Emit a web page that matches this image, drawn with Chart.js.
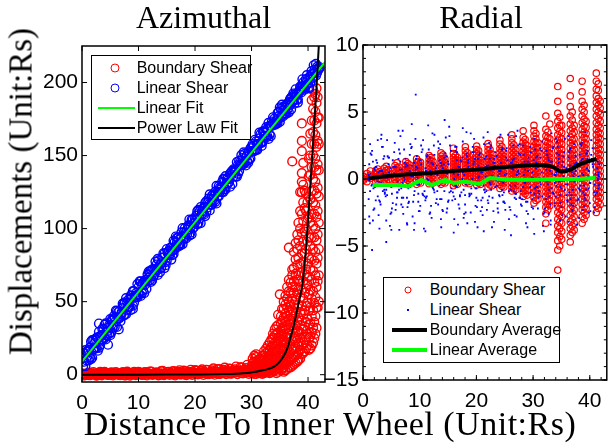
<!DOCTYPE html>
<html>
<head>
<meta charset="utf-8">
<script src="https://cdn.jsdelivr.net/npm/chart.js@4.4.1/dist/chart.umd.min.js"></script>
<style>
  body { margin: 0; background: #fff; }
  #wrap { position: relative; width: 612px; height: 444px; overflow: hidden; background: #fff; }
  canvas { position: absolute; top: 0; }
  #azim { left: 0; }
  #radial { left: 310px; }
  .lbl { position: absolute; font-family: 'Liberation Serif', serif; font-size: 33px; line-height: 33px; color: #000; white-space: nowrap; text-align: center; }
  .legend { position: absolute; border: 1.3px solid #000; background: #fff; box-sizing: border-box; padding-top: 1.7px;
            font-family: 'Liberation Sans', Arial, sans-serif; font-size: 16px; color: #000; }
  .legend .row { position: relative; height: 20.2px; line-height: 20.2px; white-space: nowrap; }
  .mk-circle { position: absolute; top: 50%; border: 1px solid; border-radius: 50%; transform: translate(-50%, -50%); }
  .mk-line { position: absolute; top: 50%; transform: translateY(-50%); }
</style>
</head>
<body>
<div id="wrap">
  <canvas id="azim" width="340" height="444"></canvas>
  <canvas id="radial" width="302" height="444"></canvas>

  <div class="lbl" style="left:82px; width:243px; top:1px; font-size:32px; line-height:32px;">Azimuthal</div>
  <div class="lbl" style="left:363px; width:236px; top:1px; font-size:32px; line-height:32px;">Radial</div>
  <div class="lbl" style="left:30px; width:600px; top:407px; font-size:34px; line-height:33px; letter-spacing:0.5px;">Distance To Inner Wheel (Unit:Rs)</div>
  <div class="lbl" style="left:-179px; width:400px; top:175px; transform: rotate(-90deg);">Displacements (Unit:Rs)</div>

  <div class="legend" style="left:91px; top:55px; width:160px; height:85px;">
    <div class="row" style="padding-left:44.7px;"><span class="mk-circle" style="left:22.7px; width:7px; height:7px; border-color:#f00;"></span>Boundary Shear</div>
    <div class="row" style="padding-left:44.7px;"><span class="mk-circle" style="left:22.7px; width:7px; height:7px; border-color:#00f;"></span>Linear Shear</div>
    <div class="row" style="padding-left:44.7px;"><span class="mk-line" style="left:5.7px; width:37px; height:2px; background:#0f0;"></span>Linear Fit</div>
    <div class="row" style="padding-left:44.7px;"><span class="mk-line" style="left:5.7px; width:37px; height:2px; background:#000;"></span>Power Law Fit</div>
  </div>

  <div class="legend" style="left:383px; top:277px; width:177px; height:86px;">
    <div class="row" style="padding-left:45.7px;"><span class="mk-circle" style="left:23.7px; width:5px; height:5px; border-color:#f00;"></span>Boundary Shear</div>
    <div class="row" style="padding-left:45.7px;"><span class="mk-line" style="left:22.7px; width:2px; height:2px; background:#00f;"></span>Linear Shear</div>
    <div class="row" style="padding-left:45.7px;"><span class="mk-line" style="left:7.7px; width:35px; height:4px; background:#000;"></span>Boundary Average</div>
    <div class="row" style="padding-left:45.7px;"><span class="mk-line" style="left:7.7px; width:35px; height:4px; background:#0f0;"></span>Linear Average</div>
  </div>
</div>

<script>
// ---------- Azimuthal (left) ----------
const linX = [0.4,0.8,1.2,1.6,2.0,2.4,2.8,3.2,3.6,4.0,4.4,4.8,5.2,5.6,6.0,6.4,6.8,7.2,7.6,8.0,
  8.4,8.8,9.2,9.6,10.0,10.4,10.8,11.2,11.6,12.0,12.4,12.8,13.2,13.6,14.0,14.4,14.8,15.2,15.6,16.0,
  16.4,16.8,17.2,17.6,18.0,18.4,18.8,19.2,19.6,20.0,20.4,20.8,21.2,21.6,22.0,22.4,22.8,23.2,23.6,24.0,
  24.4,24.8,25.2,25.6,26.0,26.4,26.8,27.2,27.6,28.0,28.4,28.8,29.2,29.6,30.0,30.4,30.8,31.2,31.6,32.0,
  32.4,32.8,33.2,33.6,34.0,34.4,34.8,35.2,35.6,36.0,36.4,36.8,37.2,37.6,38.0,38.4,38.8,39.2,39.6,40.0,
  40.4,40.8,41.2,41.6,42.0];
const linYa = [8.9,15.8,9.8,22.7,17.6,24.5,16.4,26.4,31.3,25.2,31.1,28.0,37.0,33.9,43.8,38.7,36.6,45.6,49.5,44.4,
  49.3,54.2,49.2,56.1,55,63.9,57.8,64.8,63.7,70.6,64.5,71.4,75.4,72.3,76.2,83.1,77,84,82.9,81.8,
  90.7,90.6,89.6,97.5,92.4,97.3,101.2,97.2,106.1,104,111.9,106.8,111.8,109.7,118.6,116.5,116.4,123.4,118.3,125.2,
  128.1,125,134,130.9,133.8,138.7,135.6,140.6,137.5,145.4,144.3,151.2,146.2,153.1,153,152.9,159.8,157.8,164.7,159.6,
  165.5,168.4,164.4,173.3,171.2,174.1,180,176,180.9,178.8,185.7,184.6,190.6,185.5,192.4,193.3,193.2,200.2,198.1,203,
  199.9,205.8,208.8,206.7,210.6];
const linYb = [14.9,9.8,16.8,10.7,23.6,18.5,25.4,20.4,27.3,34.2,27.1,34,29,39.9,36.8,42.7,39.6,48.6,41.5,49.4,
  46.3,52.2,57.2,53.1,60,53.9,62.8,61.8,68.7,64.6,71.5,68.4,71.4,78.3,73.2,80.1,75,83,86.9,84.8,
  85.7,93.6,88.6,94.5,97.4,93.3,102.2,101.2,100.1,107,102.9,111.8,109.8,114.7,111.6,120.5,116.4,120.4,125.3,122.2,
  125.1,132,127,133.9,131.8,136.7,140.6,135.6,143.5,143.4,148.3,145.2,150.2,147.1,156,156.9,153.8,159.8,158.7,166.6,
  163.5,163.4,170.4,170.3,175.2,172.1,177,182,176.9,182.8,181.7,188.6,186.6,191.5,188.4,194.3,197.2,196.2,202.1,199,
  203.9,202.8,206.8,210.7,209.6];
const linXc = [0.2,0.6,1.0,1.4,1.8,2.2,2.6,3.0,3.4,3.8,4.2,4.6,5.0,5.4,5.8,6.2,6.6,7.0,7.4,7.8,
  8.2,8.6,9.0,9.4,9.8,10.2,10.6,11.0,11.4,11.8,12.2,12.6,13.0,13.4,13.8,14.2,14.6,15.0,15.4,15.8,
  16.2,16.6,17.0,17.4,17.8,18.2,18.6,19.0,19.4,19.8,20.2,20.6,21.0,21.4,21.8,22.2,22.6,23.0,23.4,23.8,
  24.2,24.6,25.0,25.4,25.8,26.2,26.6,27.0,27.4,27.8,28.2,28.6,29.0,29.4,29.8,30.2,30.6,31.0,31.4,31.8,
  32.2,32.6,33.0,33.4,33.8,34.2,34.6,35.0,35.4,35.8,36.2,36.6,37.0,37.4,37.8,38.2,38.6,39.0,39.4,39.8,
  40.2,40.6,41.0,41.4,41.8];
const linYc = [14.9,5.8,15.8,11.7,23.6,17.5,25.4,18.4,26.3,24.2,35.1,30,27,37.9,32.8,43.7,38.6,42.6,48.5,41.4,
  51.3,44.2,57.2,53.1,53,63.9,55.8,63.8,58.7,66.6,71.5,67.4,77.4,68.3,75.2,80.1,73,86,81.9,86.8,
  82.7,94.6,87.6,93.5,89.4,100.3,96.2,106.2,96.1,104,108.9,103.8,114.8,110.7,108.6,117.5,123.4,116.4,122.3,117.2,
  129.1,127,125,135.9,130.8,137.7,130.6,139.6,145.5,139.4,143.3,152.2,143.2,152.1,148,157.9,153.8,157.8,165.7,156.6,
  166.5,162.4,172.4,163.3,172.2,172.1,179,173,184.9,178.8,184.7,179.6,189.6,187.5,195.4,188.3,194.2,202.2,195.1,201,
  195.9,207.8,203.8,212.7,208.6];
const linYd = [5.9,16.8,12.8,18.7,11.6,21.5,18.4,29.4,23.3,31.2,24.1,32,38,31.9,38.8,32.7,43.6,41.6,40.5,52.4,
  46.3,54.2,47.2,54.1,62,54.9,61.8,55.8,64.7,70.6,63.5,72.4,70.4,79.3,70.2,77.1,83,78,84.9,78.8,
  91.7,87.6,93.6,88.5,100.4,94.3,99.2,95.2,106.1,101,105.9,112.8,103.8,113.7,117.6,114.5,112.4,122.4,119.3,129.2,
  122.1,128,134,126.9,134.8,128.7,139.6,138.6,135.5,146.4,150.3,144.2,149.2,145.1,155,152.9,160.8,153.8,161.7,158.6,
  163.5,169.4,161.4,170.3,176.2,171.1,172,183,177.9,183.8,178.7,186.6,181.6,192.5,190.4,186.3,197.2,197.2,196.1,205,
  196.9,205.8,211.8,204.7,209.6];
const linOutX = [1.4, 4.6, 9.0, 3.0, 6.5];
const linOutY = [12, 20.5, 45, 35, 31];

const fitX = [0, 43];
const fitY = [9, 214];

const bndLowX = [0.5,1,1.5,2,2.5,3,3.5,4,4.5,5,5.5,6,6.5,7,7.5,8,8.5,9,9.5,10,
  10.5,11,11.5,12,12.5,13,13.5,14,14.5,15,15.5,16,16.5,17,17.5,18,18.5,19,19.5,20,
  20.5,21,21.5,22,22.5,23,23.5,24,24.5,25,25.5,26,26.5,27,27.5,28,28.5,29,29.5,30];
const bndLowYa = [0.2,1.1,0.5,1.8,0.3,1.4,0.8,2.0,0.1,1.2, 0.6,1.7,0.2,1.3,0.9,2.1,0.4,1.5,0.7,1.9,
  0.3,1.6,1.0,2.2,0.5,1.4,0.8,2.4,0.6,1.8, 1.1,2.3,0.7,1.9,1.3,2.8,0.9,2.0,1.5,3.1,
  1.2,2.6,1.8,3.4,1.0,2.9,2.2,3.8,1.6,3.3, 2.4,4.2,1.9,3.7,2.8,5.1,2.2,4.6,3.3,6.0];
const bndLowYb = [-0.5,0.4,-0.3,0.6,-0.6,0.2,-0.4,0.5,-0.2,0.7, -0.5,0.3,-0.1,0.6,-0.4,0.2,-0.6,0.5,-0.3,0.4,
  -0.2,0.6,-0.5,0.3,-0.1,0.7,-0.4,0.2,-0.3,0.5, -0.2,0.4,-0.5,0.6,0.0,0.3,-0.3,0.8,-0.1,0.5,
  0.2,0.9,-0.2,0.6,0.4,1.1,0.0,0.8,0.5,1.3, 0.3,1.0,0.7,1.5,0.4,1.2,0.9,1.8,0.6,1.4];
const bndLowX2 = [0.25,0.75,1.25,1.75,2.25,2.75,3.25,3.75,4.25,4.75,5.25,5.75,6.25,6.75,7.25,7.75,8.25,8.75,9.25,9.75,
  10.25,10.75,11.25,11.75,12.25,12.75,13.25,13.75,14.25,14.75,15.25,15.75,16.25,16.75,17.25,17.75,18.25,18.75,19.25,19.75,
  20.25,20.75,21.25,21.75,22.25,22.75,23.25,23.75,24.25,24.75,25.25,25.75,26.25,26.75,27.25,27.75,28.25,28.75,29.25,29.75];
const bndLowYc = [0.8,-0.2,1.5,0.4,1.0,-0.4,1.9,0.6,1.3,-0.1, 1.6,0.2,1.1,-0.3,1.8,0.7,1.2,0.0,2.0,0.5,
  1.4,-0.2,1.7,0.9,2.2,0.3,1.5,1.0,2.6,0.4, 1.9,0.8,2.5,1.2,3.0,0.6,2.3,1.4,3.4,1.0,
  2.8,1.6,3.6,1.1,3.2,2.0,4.3,1.5,3.8,2.4, 4.8,1.8,4.0,2.9,5.6,2.3,5.0,3.5,6.8,3.0];
const bndLowYd = [0.0,0.6,-0.3,0.9,0.2,0.5,-0.1,1.0,0.3,0.7, -0.2,0.8,0.4,0.1,0.9,-0.4,0.6,0.3,1.0,0.0,
  0.7,0.4,-0.1,0.9,0.2,0.6,1.1,-0.2,0.8,0.3, 0.6,1.2,0.1,0.9,0.4,1.4,0.0,1.1,0.7,1.6,
  0.5,1.3,0.9,1.8,0.3,1.5,1.0,2.1,0.6,1.7, 1.2,2.4,0.8,2.0,1.5,2.9,1.0,2.5,1.8,3.6];

const bndHiX = [30.2,30.8,31.5,32.2,32.9,33.5,34.1,34.7,35.0,35.4,36.0,36.6,37.2,37.8,38.3,38.9,39.4,39.9,40.4,40.9,41.3,41.7];
const bndHiY = [
  [1,3,5,8,11,2,6],
  [0.5,2.5,4,7,9,12,14],
  [1,3,6,4,9,2,11],
  [1,4,7,10,13,5,2,16],
  [2,5,8,12,16,20,3],
  [1.5,4,7,11,15,19,24],
  [3,6,10,14,18,22,27,31],
  [2,5,9,13,17,21,25,29,34,41],
  [55,12,7],
  [4,8,12,16,20,24,28,32,37,45],
  [3,7,11,16,21,26,31,36,42,48,54],
  [5,9,14,19,25,31,38,44,50,57,65,87],
  [6,11,17,23,30,37,44,52,60,68,72,146],
  [8,13,19,26,34,42,51,60,69,79,90],
  [10,15,22,30,39,48,58,68,80,92,104],
  [14,20,28,37,47,58,70,83,97,110,125,132,138,153,160,172],
  [16,24,33,44,56,69,83,98,114,126],
  [20,28,38,49,62,76,91,107,118],
  [18,26,35,46,58,72,88,104,120,137,150,165],
  [22,32,44,57,71,86,102,118,134,150,166,182,195],
  [28,40,53,68,84,100,116,132,148,164,180,192],
  [46,64,80,96,112,128,144,160,176,190]
];
const bndHiX2 = [30.5,31.2,31.9,32.6,33.2,33.8,34.4,35.2,35.7,36.3,36.9,37.5,38.1,38.6,39.15,39.65,40.15,40.65,41.1,41.5,41.9];
const bndHiY2 = [
  [0.5,2,4,6,9,13],
  [1,2.5,5,8,10,3],
  [0.5,2,4,7,10,13],
  [1.5,3,6,9,12,15,18],
  [1,3,6,9,13,17,22],
  [2,5,8,12,16,20,25,28],
  [1,4,7,11,15,19,23,28,33],
  [3,6,10,14,18,22,26,30,35,40],
  [2,5,9,13,18,23,28,33,39,45,50],
  [4,8,12,17,22,28,34,40,46,52,60],
  [5,10,15,21,27,34,41,48,56,63],
  [7,12,18,25,32,40,48,56,64,73,84],
  [9,14,21,29,37,46,55,65,75,86,96],
  [11,17,25,34,43,53,64,76,88,100,112,125],
  [15,22,31,41,52,64,77,91,105,118,130,145],
  [18,26,36,47,59,72,86,100,112,124],
  [17,25,34,44,55,67,80,94,108,122,136,148],
  [20,29,40,52,65,79,94,110,126,142,158,174,188],
  [25,36,49,63,78,94,110,126,142,158,174,190],
  [32,46,60,76,92,108,124,140,156,172,186,196],
  [50,68,86,104,122,140,158,176]
];

const plX = [0,5,10,15,20,25,28,30,32,33,34,35,36,36.5,37,37.5,38,38.5,39,39.5,40,40.5,41,41.5,42];
const plY = [0,0,0,0.05,0.15,0.4,0.9,1.5,3.0,4.0,5.5,9,15,20,27,34,43,52,62,80,106,135,165,197,232];

// ---------- Radial (right) ----------
const bndRadX = [0.1,0.7,1.3, 2.25,2.6,2.95, 3.75,4.1,4.45, 5.65,6.0,6.35, 7.55,7.9,8.25, 9.45,9.8,10.15,
  11.65,12.0,12.35, 13.75,14.1,14.45, 15.95,16.3,16.65, 18.05,18.4,18.75, 20.05,20.4,20.75, 22.05,22.4,22.75,
  24.15,24.5,24.85, 26.25,26.6,26.95, 28.25,28.6,28.95, 30.15,30.5,30.85, 32.25,32.6,32.95, 34.35,34.7,35.05,
  36.55,36.9,37.25, 38.65,39.0,39.35, 41.15,41.5,41.85];
const bndRadY = [
  [0,0.2,-0.1], [-0.2,0.1,0.4], [0.05,0.3,0.6],
  [-0.2,0.1,0.35,0.6], [-0.1,0.2,0.45,0.75], [0,0.3,0.55],
  [-0.3,0,0.25,0.5,0.8], [-0.15,0.1,0.4,0.65,0.95], [-0.05,0.2,0.45,0.7],
  [-0.3,-0.05,0.2,0.45,0.7,1.0], [-0.2,0.1,0.35,0.6,0.85,1.2], [-0.1,0.15,0.4,0.65,0.9],
  [-0.25,0,0.25,0.5,0.75,1.0,1.3], [-0.1,0.15,0.4,0.65,0.9,1.15], [-0.2,0.05,0.3,0.55,0.8,1.05],
  [-0.4,-0.1,0.2,0.45,0.7,0.95,1.2,1.5], [-0.25,0.05,0.3,0.55,0.8,1.05,1.3], [-0.3,0,0.25,0.5,0.75,1.0,1.25],
  [-0.35,-0.05,0.2,0.45,0.7,0.95,1.2,1.45,1.75], [-0.2,0.1,0.35,0.6,0.85,1.1,1.35,1.6], [-0.3,0,0.25,0.5,0.75,1.0,1.3],
  [-0.4,-0.1,0.2,0.45,0.7,0.95,1.2,1.45,1.7,1.95], [-0.25,0.05,0.3,0.55,0.8,1.05,1.3,1.55,1.8], [-0.3,0,0.25,0.5,0.75,1.0,1.25,1.5],
  [-0.5,-0.2,0.1,0.35,0.6,0.85,1.1,1.35,1.6,1.9,2.3], [-0.35,-0.05,0.2,0.45,0.7,0.95,1.2,1.45,1.75], [-0.4,-0.1,0.15,0.4,0.65,0.9,1.15,1.4,1.6],
  [-0.3,0,0.25,0.5,0.75,1.0,1.25,1.5,1.8,2.1,2.4], [-0.2,0.1,0.35,0.6,0.85,1.1,1.35,1.65,1.95], [-0.35,-0.05,0.2,0.45,0.7,0.95,1.2,1.45,1.7],
  [-0.45,-0.15,0.1,0.35,0.6,0.85,1.1,1.35,1.6,1.9,2.2,2.45], [-0.3,0,0.25,0.5,0.75,1.0,1.25,1.5,1.8,2.1], [-0.4,-0.1,0.15,0.4,0.65,0.9,1.15,1.4,1.65],
  [-0.6,-0.3,0,0.25,0.5,0.75,1.0,1.25,1.5,1.8,2.1,2.4,2.65], [-0.45,-0.15,0.1,0.35,0.6,0.85,1.1,1.35,1.6,1.9,2.2], [-0.5,-0.2,0.05,0.3,0.55,0.8,1.05,1.3,1.55,1.85],
  [-0.7,-0.4,-0.1,0.15,0.4,0.65,0.9,1.15,1.4,1.65,1.95,2.25,2.6,2.9], [-0.55,-0.25,0,0.25,0.5,0.75,1.0,1.25,1.5,1.8,2.1,2.4], [-0.6,-0.3,-0.05,0.2,0.45,0.7,0.95,1.2,1.45,1.7,2.0],
  [-0.9,-0.6,-0.3,0,0.25,0.5,0.75,1.0,1.25,1.5,1.8,2.1,2.4,2.7,3.0,3.3], [-0.75,-0.45,-0.15,0.1,0.35,0.6,0.85,1.1,1.35,1.65,1.95,2.25,2.55], [-0.8,-0.5,-0.2,0.05,0.3,0.55,0.8,1.05,1.3,1.55,1.85,2.15],
  [-1.3,-0.95,-0.6,-0.3,0,0.25,0.5,0.75,1.0,1.25,1.5,1.8,2.1,2.4,2.75,3.1,3.6], [-1.1,-0.75,-0.45,-0.15,0.1,0.35,0.6,0.85,1.1,1.35,1.65,1.95,2.25,2.6,2.95], [-1.2,-0.85,-0.5,-0.2,0.05,0.3,0.55,0.8,1.05,1.3,1.6,1.9,2.2,2.5],
  [-1.8,-1.4,-1.0,-0.65,-0.3,0,0.3,0.6,0.9,1.2,1.5,1.8,2.1,2.45,2.8,3.2,3.6,4.0], [-1.6,-1.2,-0.85,-0.5,-0.15,0.15,0.45,0.75,1.05,1.35,1.65,1.95,2.3,2.65,3.0,3.4], [-1.5,-1.1,-0.75,-0.4,-0.1,0.2,0.5,0.8,1.1,1.4,1.7,2.0,2.35,2.7],
  [-3.3,-2.6,-2.1,-1.7,-1.3,-0.95,-0.6,-0.3,0,0.3,0.6,0.9,1.2,1.5,1.8,2.1,2.45,2.8,3.2,3.7,4.7], [-2.3,-1.9,-1.5,-1.1,-0.75,-0.4,-0.1,0.2,0.5,0.8,1.1,1.4,1.7,2.0,2.35,2.7,3.1,3.5], [-2.0,-1.6,-1.2,-0.85,-0.5,-0.2,0.1,0.4,0.7,1.0,1.3,1.6,1.9,2.25,2.6,3.0,4.1],
  [-6.8,-5.3,-4.6,-4.0,-3.5,-3.0,-2.5,-2.0,-1.6,-1.2,-0.8,-0.4,0,0.35,0.7,1.05,1.4,1.75,2.1,2.5,2.9,3.3,3.8,4.3,4.9,5.8,6.9],
  [-5.0,-4.3,-3.7,-3.2,-2.7,-2.2,-1.8,-1.4,-1.0,-0.6,-0.2,0.15,0.5,0.85,1.2,1.55,1.9,2.3,2.7,3.1,3.55,4.0,4.6],
  [-4.5,-3.9,-3.3,-2.8,-2.3,-1.9,-1.5,-1.1,-0.7,-0.3,0.05,0.4,0.75,1.1,1.45,1.8,2.2,2.6,3.0,3.45,4.0],
  [-4.7,-4.2,-3.7,-3.2,-2.7,-2.2,-1.8,-1.4,-1.0,-0.6,-0.2,0.15,0.5,0.85,1.2,1.55,1.9,2.3,2.7,3.1,3.6,4.1,4.7,5.4,6.2,7.5],
  [-4.0,-3.5,-3.0,-2.5,-2.0,-1.6,-1.2,-0.8,-0.4,0,0.35,0.7,1.05,1.4,1.75,2.1,2.5,2.9,3.35,3.8,4.4,5.0],
  [-3.8,-3.3,-2.8,-2.3,-1.8,-1.4,-1.0,-0.6,-0.25,0.1,0.45,0.8,1.15,1.5,1.85,2.2,2.6,3.0,3.5,4.0],
  [-3.3,-2.8,-2.3,-1.9,-1.5,-1.1,-0.7,-0.3,0.05,0.4,0.75,1.1,1.45,1.8,2.15,2.5,2.9,3.3,3.7,4.2,4.7,5.2,5.8,6.5,7.3],
  [-3.0,-2.5,-2.1,-1.7,-1.3,-0.9,-0.5,-0.1,0.25,0.6,0.95,1.3,1.65,2.0,2.35,2.7,3.1,3.5,3.95,4.45,5.0,5.5],
  [-2.7,-2.2,-1.8,-1.4,-1.0,-0.6,-0.2,0.15,0.5,0.85,1.2,1.55,1.9,2.25,2.6,3.0,3.4,3.85,4.3],
  [-2.5,-2.0,-1.5,-1.1,-0.7,-0.3,0.1,0.5,0.9,1.3,1.7,2.1,2.5,2.9,3.3,3.7,4.2,4.7,5.2,5.7,6.2,6.7,7.3,7.9],
  [-2.2,-1.7,-1.3,-0.9,-0.5,-0.1,0.3,0.7,1.1,1.5,1.9,2.3,2.7,3.1,3.5,4.0,4.5,5.0,5.5,6.0,6.6,7.1],
  [-1.9,-1.4,-1.0,-0.6,-0.2,0.2,0.6,1.0,1.4,1.8,2.2,2.6,3.0,3.4,3.8,4.3,4.8,5.3,5.8]
];

const radXa = [1,1.5,2,2.5,3,3.5,4,4.5,5,5.5,6,6.5,7,7.5,8,8.5,9,9.5,10,10.5,11,11.5,12,12.5,13,13.5,14,14.5,15,15.5,
  16,16.5,17,17.5,18,18.5,19,19.5,20,20.5,21,21.5,22,22.5,23,23.5,24,24.5,25,25.5,26,26.5,27,27.5,28,28.5,29,29.5,30,30.5,
  31,31.5,32,32.5,33,33.5,34,34.5,35,35.5,36,36.5,37,37.5,38,38.5,39,39.5,40,40.5,41];
const radXb = [1.25,1.75,2.25,2.75,3.25,3.75,4.25,4.75,5.25,5.75,6.25,6.75,7.25,7.75,8.25,8.75,9.25,9.75,10.25,10.75,
  11.25,11.75,12.25,12.75,13.25,13.75,14.25,14.75,15.25,15.75,16.25,16.75,17.25,17.75,18.25,18.75,19.25,19.75,20.25,20.75,
  21.25,21.75,22.25,22.75,23.25,23.75,24.25,24.75,25.25,25.75,26.25,26.75,27.25,27.75,28.25,28.75,29.25,29.75,30.25,30.75,
  31.25,31.75,32.25,32.75,33.25,33.75,34.25,34.75,35.25,35.75,36.25,36.75,37.25,37.75,38.25,38.75,39.25,39.75,40.25,40.75];
const radXc = [1.1,1.6,2.1,2.6,3.1,3.6,4.1,4.6,5.1,5.6,6.1,6.6,7.1,7.6,8.1,8.6,9.1,9.6,10.1,10.6,
  11.1,11.6,12.1,12.6,13.1,13.6,14.1,14.6,15.1,15.6,16.1,16.6,17.1,17.6,18.1,18.6,19.1,19.6,20.1,20.6,
  21.1,21.6,22.1,22.6,23.1,23.6,24.1,24.6,25.1,25.6,26.1,26.6,27.1,27.6,28.1,28.6,29.1,29.6,30.1,30.6,
  31.1,31.6,32.1,32.6,33.1,33.6,34.1,34.6,35.1,35.6,36.1,36.6,37.1,37.6,38.1,38.6,39.1,39.6,40.1,40.6];
const radXd = [1.35,1.85,2.35,2.85,3.35,3.85,4.35,4.85,5.35,5.85,6.35,6.85,7.35,7.85,8.35,8.85,9.35,9.85,10.35,10.85,
  11.35,11.85,12.35,12.85,13.35,13.85,14.35,14.85,15.35,15.85,16.35,16.85,17.35,17.85,18.35,18.85,19.35,19.85,20.35,20.85,
  21.35,21.85,22.35,22.85,23.35,23.85,24.35,24.85,25.35,25.85,26.35,26.85,27.35,27.85,28.35,28.85,29.35,29.85,30.35,30.85,
  31.35,31.85,32.35,32.85,33.35,33.85,34.35,34.85,35.35,35.85,36.35,36.85,37.35,37.85,38.35,38.85,39.35,39.85,40.35,40.85];
const radYa = [0.3,-0.5,0.8,-0.2,0.6,-0.9,0.1,1.1,-0.6,0.4, -1.0,0.7,-0.3,0.9,-0.7,0.2,1.2,-0.4,0.5,-1.1,
  0.8,-0.1,0.3,-0.8,1.0,-0.5,0.6,-0.2,1.3,-0.9, 0.4,-0.6,0.9,0.0,-1.2,0.7,-0.3,1.1,-0.7,0.2,
  0.5,-1.0,0.8,-0.4,1.2,-0.1,0.6,-0.8,0.3,1.0, -0.5,0.7,-1.1,0.4,0.9,-0.3,1.3,-0.6,0.1,0.8,
  -0.9,0.5,1.1,-0.2,0.6,-1.0,0.3,1.2,-0.7,0.9, -0.4,1.0,-0.8,0.6,0.2,1.4,-0.5,0.8,-0.3,1.1, 0.4];
const radYb = [-1.5,1.8,-2.2,1.2,-1.7,2.4,-1.3,1.6,-2.5,2.0, -1.4,1.9,-2.1,1.5,-1.8,2.3,-1.2,1.7,-2.4,2.2,
  -1.6,1.3,-2.0,2.5,-1.5,1.4,-2.3,1.9,-1.7,2.1, -1.3,2.4,-2.2,1.6,-1.9,1.2,-2.5,2.0,-1.4,1.8,
  -2.1,1.5,-1.6,2.3,-2.4,1.7,-1.2,2.2,-1.8,1.4, -2.3,2.5,-1.5,1.9,-2.0,1.3,-1.7,2.4,-2.2,1.6,
  -1.4,2.1,-2.5,1.8,-1.9,2.3,-1.3,1.5,-2.1,2.0, -1.6,2.2,-2.4,1.7,-1.5,2.5,-2.0,1.9,-1.8,2.3, -1.2];
const radYc = [2.6,-3.1,0.9,-2.7,3.3,-0.8,2.9,-3.5,1.4,-2.3, 3.6,-1.9,2.2,-3.3,0.6,-2.8,3.0,-1.1,2.5,-3.7,
  1.7,-2.6,3.4,-0.4,2.8,-3.0,1.1,-2.5,3.2,-1.6, 2.4,-3.4,0.7,-2.9,3.5,-1.3,2.0,-3.2,1.5,-2.4,
  3.1,-0.9,2.7,-3.6,1.2,-2.2,3.3,-1.7,2.1,-3.0, 0.8,-2.7,3.6,-1.4,2.5,-3.3,1.6,-2.1,3.0,-0.6,
  2.3,-3.5,1.0,-2.6,3.4,-1.8,2.8,-3.1,1.3,-2.8, 3.2,-1.2,2.6,-3.4,1.8,-2.3,3.5,-0.7,2.9,-2.5];
const radYd = [-0.9,1.3,-1.6,0.5,-0.3,1.7,-1.2,0.2,-1.8,0.9, 1.5,-0.7,0.1,-1.4,1.8,-0.4,0.7,-1.7,1.1,-0.1,
  -1.3,1.6,-0.6,0.4,-1.9,1.2,-0.2,1.7,-1.0,0.6, -1.5,0.3,1.4,-0.8,1.9,-1.1,0.0,1.5,-1.6,0.8,
  -0.5,1.7,-1.3,0.2,1.0,-1.8,0.6,-0.3,1.6,-0.9, 1.2,-1.4,0.5,1.8,-0.6,-1.7,1.3,0.1,-1.1,1.7,
  -0.2,0.9,-1.5,1.4,-0.7,0.3,1.9,-1.2,0.7,-0.4, 1.6,-1.9,0.4,1.1,-0.8,1.5,-1.6,0.2,1.8,-1.0];
const radYe = [1.1,-0.4,0.7,-1.3,0.2,1.5,-0.8,0.5,-1.1,0.9, -0.2,1.3,-1.4,0.4,-0.6,1.0,-0.9,0.1,1.4,-1.2,
  0.6,-0.3,1.2,-1.0,0.3,-1.5,0.8,-0.1,1.1,-0.7, 0.0,1.4,-1.3,0.5,-0.4,0.9,-1.1,1.3,-0.2,0.7,
  -1.4,0.2,1.0,-0.8,1.5,-0.5,0.4,-1.2,0.8,-0.1, 1.2,-0.9,0.3,-1.4,1.1,-0.3,0.6,-1.0,1.4,-0.6,
  0.1,-1.3,0.9,-0.4,1.3,-1.1,0.5,-0.2,1.0,-0.8, 0.7,-1.5,0.2,1.2,-0.7,0.4,-1.2,1.5,-0.3,0.9];
const radYf = [-2.8,2.1,-0.6,2.9,-1.9,0.4,-3.1,1.6,-2.2,2.7, -1.0,3.2,-2.6,1.1,-1.7,2.4,-3.3,0.8,-2.0,2.9,
  -1.4,2.2,-2.9,1.8,-0.9,2.6,-2.4,3.1,-1.6,0.6, -3.0,2.0,-1.2,2.8,-2.5,1.4,-0.7,3.0,-2.1,1.9,
  -2.7,0.9,-1.8,2.5,-3.2,1.7,-1.3,2.3,-2.3,3.3, -0.8,1.5,-2.8,2.6,-1.5,0.7,-2.6,2.0,-3.0,1.2,
  -1.1,2.8,-2.2,1.6,-3.1,2.4,-0.5,1.8,-2.7,3.0, -1.7,2.3,-2.0,1.0,-2.9,2.7,-1.4,2.1,-2.4,1.3];
const radYg = [0.4,-0.7,0.9,-0.2,0.6,-1.0,0.1,0.8,-0.5,0.3, -0.8,0.7,-0.1,1.0,-0.6,0.2,0.9,-0.4,0.5,-0.9,
  0.0,0.6,-0.7,0.8,-0.3,1.0,-0.9,0.4,-0.2,0.7, -0.5,0.9,-1.0,0.3,0.6,-0.4,0.8,-0.7,0.1,0.5,
  -0.8,1.0,-0.3,0.7,-0.6,0.2,0.9,-1.0,0.4,-0.1, 0.8,-0.5,0.6,-0.9,0.3,1.0,-0.2,0.5,-0.7,0.9,
  -0.4,0.1,0.7,-0.8,0.4,-0.3,1.0,-0.6,0.2,0.8, -1.0,0.5,-0.2,0.9,-0.5,0.3,-0.8,0.6,0.0,-0.4];
const radYh = [1.9,-2.3,1.4,-1.6,2.4,-1.1,1.7,-2.6,0.9,-1.9, 2.2,-1.4,1.2,-2.1,2.6,-1.7,1.5,-2.4,2.0,-1.3,
  1.8,-2.5,1.1,-1.8,2.3,-1.5,1.6,-2.2,2.5,-1.0, 2.1,-1.9,1.3,-2.6,1.7,-1.2,2.4,-2.0,1.0,-1.6,
  2.6,-2.3,1.5,-1.4,2.0,-2.5,1.2,-1.7,2.3,-2.1, 1.4,-1.1,2.5,-1.9,1.8,-2.4,1.0,-1.5,2.2,-2.2,
  1.6,-2.6,2.1,-1.3,1.3,-2.0,2.4,-1.8,1.7,-1.2, 2.0,-2.3,1.1,-1.6,2.6,-1.0,1.9,-2.5,1.5,-2.1];
const radOutX = [9.3,14.4,11.5,17.6,24.1,2.9,4.1,1.2,5.0,6.4,7.8,9.0,11.0,13.8,18.4,20.2,25.0,29.0,30.2,31.9,
  7.0,12.6,3.2,19.0,22.0,27.0,16.0,8.6,21.3,34.0,36.2,1.6,26.1,15.2,33.1];
const radOutY = [6.3,4.4,4.0,3.8,3.1,-3.7,-4.7,-3.3,-3.8,-3.8,-3.4,-3.8,-3.9,-3.6,-3.3,-3.6,-3.8,-3.6,-4.1,-3.9,
  3.6,3.3,3.0,3.4,3.5,3.2,-4.0,4.1,-3.9,3.0,-3.2,-5.3,-4.2,3.9,-3.4];
const radEdgeX = [41.3,41.5,41.7,41.4,41.6,41.5,41.3,41.7,41.4,41.6,41.5,41.4,1.0,1.0,1.1];
const radEdgeY = [-1.0,-0.7,-0.4,-0.1,0.2,0.5,0.8,1.1,1.3,-0.5,0.3,0.0,0.0,0.1,-0.1];

const bndAvgX = [1,4,8,12,16,20,24,28,31,33.5,35,36.5,38,40,41.2];
const bndAvgY = [0.05,0.2,0.35,0.45,0.6,0.7,0.85,0.98,1.05,0.9,0.55,0.68,1.04,1.35,1.5];
const linAvgX = [1.7,4,6,8,10.3,12.1,14.5,16,18,20.6,22.4,26,30,34,38,41];
const linAvgY = [-0.45,-0.45,-0.45,-0.55,-0.07,-0.45,-0.07,-0.3,-0.2,-0.35,0.07,-0.05,-0.05,0,0,0.07];

const pts = (xs, ys) => xs.map((x, i) => ({x: x, y: ys[i]}));
const cols = (xs, yss) => xs.flatMap((x, i) => yss[i].map(y => ({x: x, y: y})));

Chart.defaults.font.family = "'Liberation Sans', Arial, sans-serif";
Chart.defaults.color = '#000';

// inward MATLAB-like ticks and a box round the plot area
const boxTicks = {
  id: 'boxTicks',
  afterDatasetsDraw(chart, args, opts) {
    const {ctx, chartArea: a, scales: {x, y}} = chart;
    ctx.save();
    ctx.strokeStyle = '#000';
    ctx.lineWidth = 1;
    ctx.beginPath();
    const L = 5, m = 3;
    x.ticks.forEach(t => {
      const p = x.getPixelForValue(t.value);
      ctx.moveTo(p, a.bottom); ctx.lineTo(p, a.bottom - L);
      ctx.moveTo(p, a.top); ctx.lineTo(p, a.top + L);
    });
    y.ticks.forEach(t => {
      const p = y.getPixelForValue(t.value);
      ctx.moveTo(a.left, p); ctx.lineTo(a.left + L, p);
      ctx.moveTo(a.right, p); ctx.lineTo(a.right - L, p);
    });
    if (opts.minorX) {
      for (let v = Math.ceil(x.min / opts.minorX) * opts.minorX; v <= x.max; v += opts.minorX) {
        const p = x.getPixelForValue(v);
        ctx.moveTo(p, a.bottom); ctx.lineTo(p, a.bottom - m);
        ctx.moveTo(p, a.top); ctx.lineTo(p, a.top + m);
      }
    }
    if (opts.minorY) {
      for (let v = Math.ceil(y.min / opts.minorY) * opts.minorY; v <= y.max; v += opts.minorY) {
        const p = y.getPixelForValue(v);
        ctx.moveTo(a.left, p); ctx.lineTo(a.left + m, p);
        ctx.moveTo(a.right, p); ctx.lineTo(a.right - m, p);
      }
    }
    ctx.stroke();
    ctx.lineWidth = 1.5;
    ctx.strokeRect(a.left, a.top, a.right - a.left, a.bottom - a.top);
    ctx.restore();
  }
};

const minus = v => (v < 0 ? '\u2212' + Math.abs(v) : '' + v);

function axes(yw, xh, ymin, ymax, ystep, ypad) {
  return {
    x: {
      type: 'linear', min: 0, max: 43,
      grid: {display: false, drawTicks: false}, border: {display: false},
      ticks: {stepSize: 10, includeBounds: false, autoSkip: false, maxRotation: 0, padding: 9,
              font: {size: 21}, color: '#000'},
      afterFit: s => { s.height = xh; }
    },
    y: {
      type: 'linear', min: ymin, max: ymax,
      grid: {display: false, drawTicks: false}, border: {display: false},
      ticks: {stepSize: ystep, includeBounds: false, autoSkip: false, padding: ypad,
              font: {size: 21}, color: '#000', callback: minus},
      afterFit: s => { s.width = yw; }
    }
  };
}

new Chart(document.getElementById('azim'), {
  type: 'scatter',
  data: {
    datasets: [
      {label: 'Boundary Shear', order: 3,
       data: pts(bndLowX, bndLowYa).concat(pts(bndLowX, bndLowYb), pts(bndLowX2, bndLowYc), pts(bndLowX2, bndLowYd),
                                           cols(bndHiX, bndHiY), cols(bndHiX2, bndHiY2)),
       pointStyle: 'circle', pointRadius: 4.4, borderWidth: 1.4, borderColor: '#ff0000', backgroundColor: 'rgba(0,0,0,0)'},
      {label: 'Linear Shear', order: 2,
       data: pts(linX, linYa).concat(pts(linX, linYb), pts(linXc, linYc), pts(linXc, linYd), pts(linOutX, linOutY)),
       pointStyle: 'circle', pointRadius: 4.4, borderWidth: 1.4, borderColor: '#0000ff', backgroundColor: 'rgba(0,0,0,0)'},
      {label: 'Linear Fit', order: 1, type: 'line', data: pts(fitX, fitY),
       showLine: true, pointRadius: 0, borderWidth: 2, borderColor: '#00ff00'},
      {label: 'Power Law Fit', order: 0, type: 'line', data: pts(plX, plY),
       showLine: true, pointRadius: 0, borderWidth: 2, borderColor: '#000000', cubicInterpolationMode: 'monotone'}
    ]
  },
  options: {
    responsive: false, animation: false, events: [],
    layout: {padding: {top: 46, right: 15, bottom: 0, left: 0}},
    plugins: {legend: {display: false}, tooltip: {enabled: false}, boxTicks: {}},
    scales: axes(82, 62, -5, 225, 50, 4)
  },
  plugins: [boxTicks]
});

new Chart(document.getElementById('radial'), {
  type: 'scatter',
  data: {
    datasets: [
      {label: 'Boundary Shear', order: 3, data: cols(bndRadX, bndRadY),
       pointStyle: 'circle', pointRadius: 3.2, borderWidth: 1.2, borderColor: '#ff0000', backgroundColor: 'rgba(0,0,0,0)'},
      {label: 'Linear Shear', order: 2,
       data: pts(radXa, radYa).concat(pts(radXa, radYb), pts(radXb, radYc), pts(radXb, radYd),
                                      pts(radXc, radYe), pts(radXc, radYf), pts(radXd, radYg), pts(radXd, radYh),
                                      pts(radOutX, radOutY), pts(radEdgeX, radEdgeY)),
       pointStyle: 'rect', pointRadius: 1.3, borderWidth: 0, backgroundColor: '#0000ff'},
      {label: 'Boundary Average', order: 1, type: 'line', data: pts(bndAvgX, bndAvgY),
       showLine: true, pointRadius: 0, borderWidth: 4, borderColor: '#000000', cubicInterpolationMode: 'monotone'},
      {label: 'Linear Average', order: 0, type: 'line', data: pts(linAvgX, linAvgY),
       showLine: true, pointRadius: 0, borderWidth: 4, borderColor: '#00ff00'}
    ]
  },
  options: {
    responsive: false, animation: false, events: [],
    layout: {padding: {top: 45, right: 2, bottom: 0, left: 0}},
    plugins: {legend: {display: false}, tooltip: {enabled: false}, boxTicks: {minorX: 2, minorY: 1}},
    scales: axes(53, 64, -15, 10, 5, 4)
  },
  plugins: [boxTicks]
});
</script>
</body>
</html>
